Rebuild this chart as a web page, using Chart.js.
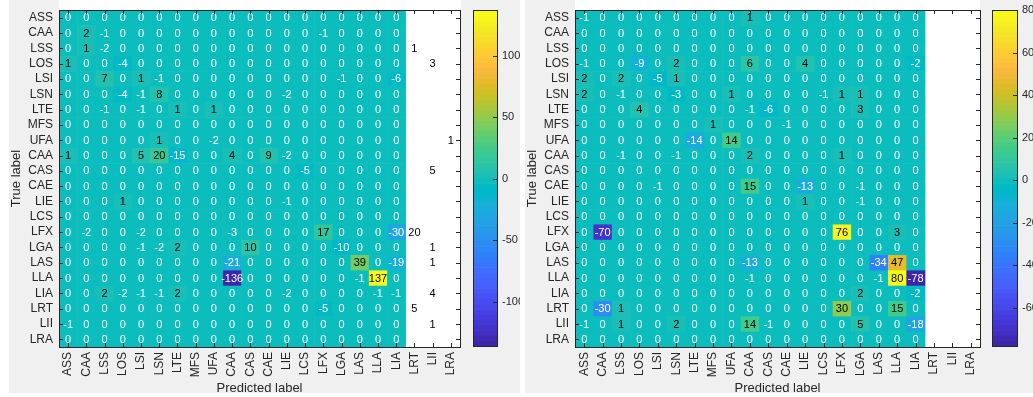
<!DOCTYPE html>
<html>
<head>
<meta charset="utf-8">
<script src="https://cdn.jsdelivr.net/npm/chart.js@4.4.1/dist/chart.umd.min.js"></script>
<style>
  html, body { margin: 0; padding: 0; width: 1033px; height: 397px; overflow: hidden; background: #ffffff; }
  .panel { position: absolute; top: 0; height: 393px; background: #f0f0f0; }
  .strip { position: absolute; top: 0; height: 10px; background: #ffffff; }
  canvas { position: absolute; top: 0; }
</style>
</head>
<body>
<div class="panel" style="left:9px;width:511px"></div>
<div class="panel" style="left:525px;width:508px"></div>
<div class="strip" style="left:59px;width:402px"></div>
<div class="strip" style="left:575px;width:405px"></div>
<canvas id="heatLeft" width="452" height="397" style="left:9px"></canvas>
<canvas id="barLeft" width="50" height="393" style="left:470px"></canvas>
<canvas id="heatRight" width="456" height="397" style="left:525px"></canvas>
<canvas id="barRight" width="52" height="393" style="left:981px"></canvas>
<script>
const classLabels = ['ASS', 'CAA', 'LSS', 'LOS', 'LSI', 'LSN', 'LTE', 'MFS', 'UFA', 'CAA', 'CAS',
  'CAE', 'LIE', 'LCS', 'LFX', 'LGA', 'LAS', 'LLA', 'LIA', 'LRT', 'LII', 'LRA']

// only the first 19 predicted columns carry an image, the last 3 show text only
const coloredColumns = 19

const leftMatrix = [
  [0, 0, 0, 0, 0, 0, 0, 0, 0, 0, 0, 0, 0, 0, 0, 0, 0, 0, 0, 0, 0, 0],
  [0, 2, -1, 0, 0, 0, 0, 0, 0, 0, 0, 0, 0, 0, -1, 0, 0, 0, 0, 0, 0, 0],
  [0, 1, -2, 0, 0, 0, 0, 0, 0, 0, 0, 0, 0, 0, 0, 0, 0, 0, 0, 1, 0, 0],
  [1, 0, 0, -4, 0, 0, 0, 0, 0, 0, 0, 0, 0, 0, 0, 0, 0, 0, 0, 0, 3, 0],
  [0, 0, 7, 0, 1, -1, 0, 0, 0, 0, 0, 0, 0, 0, 0, -1, 0, 0, -6, 0, 0, 0],
  [0, 0, 0, -4, -1, 8, 0, 0, 0, 0, 0, 0, -2, 0, 0, 0, 0, 0, 0, 0, 0, 0],
  [0, 0, -1, 0, -1, 0, 1, 0, 1, 0, 0, 0, 0, 0, 0, 0, 0, 0, 0, 0, 0, 0],
  [0, 0, 0, 0, 0, 0, 0, 0, 0, 0, 0, 0, 0, 0, 0, 0, 0, 0, 0, 0, 0, 0],
  [0, 0, 0, 0, 0, 1, 0, 0, -2, 0, 0, 0, 0, 0, 0, 0, 0, 0, 0, 0, 0, 1],
  [1, 0, 0, 0, 5, 20, -15, 0, 0, 4, 0, 9, -2, 0, 0, 0, 0, 0, 0, 0, 0, 0],
  [0, 0, 0, 0, 0, 0, 0, 0, 0, 0, 0, 0, 0, -5, 0, 0, 0, 0, 0, 0, 5, 0],
  [0, 0, 0, 0, 0, 0, 0, 0, 0, 0, 0, 0, 0, 0, 0, 0, 0, 0, 0, 0, 0, 0],
  [0, 0, 0, 1, 0, 0, 0, 0, 0, 0, 0, 0, -1, 0, 0, 0, 0, 0, 0, 0, 0, 0],
  [0, 0, 0, 0, 0, 0, 0, 0, 0, 0, 0, 0, 0, 0, 0, 0, 0, 0, 0, 0, 0, 0],
  [0, -2, 0, 0, -2, 0, 0, 0, 0, -3, 0, 0, 0, 0, 17, 0, 0, 0, -30, 20, 0, 0],
  [0, 0, 0, 0, -1, -2, 2, 0, 0, 0, 10, 0, 0, 0, 0, -10, 0, 0, 0, 0, 1, 0],
  [0, 0, 0, 0, 0, 0, 0, 0, 0, -21, 0, 0, 0, 0, 0, 0, 39, 0, -19, 0, 1, 0],
  [0, 0, 0, 0, 0, 0, 0, 0, 0, -136, 0, 0, 0, 0, 0, 0, -1, 137, 0, 0, 0, 0],
  [0, 0, 2, -2, -1, -1, 2, 0, 0, 0, 0, 0, -2, 0, 0, 0, 0, -1, -1, 0, 4, 0],
  [0, 0, 0, 0, 0, 0, 0, 0, 0, 0, 0, 0, 0, 0, -5, 0, 0, 0, 0, 5, 0, 0],
  [-1, 0, 0, 0, 0, 0, 0, 0, 0, 0, 0, 0, 0, 0, 0, 0, 0, 0, 0, 0, 1, 0],
  [0, 0, 0, 0, 0, 0, 0, 0, 0, 0, 0, 0, 0, 0, 0, 0, 0, 0, 0, 0, 0, 0]
]

const rightMatrix = [
  [-1, 0, 0, 0, 0, 0, 0, 0, 0, 1, 0, 0, 0, 0, 0, 0, 0, 0, 0, 0, 0, 0],
  [0, 0, 0, 0, 0, 0, 0, 0, 0, 0, 0, 0, 0, 0, 0, 0, 0, 0, 0, 0, 0, 0],
  [0, 0, 0, 0, 0, 0, 0, 0, 0, 0, 0, 0, 0, 0, 0, 0, 0, 0, 0, 0, 0, 0],
  [-1, 0, 0, -9, 0, 2, 0, 0, 0, 6, 0, 0, 4, 0, 0, 0, 0, 0, -2, 0, 0, 0],
  [2, 0, 2, 0, -5, 1, 0, 0, 0, 0, 0, 0, 0, 0, 0, 0, 0, 0, 0, 0, 0, 0],
  [2, 0, -1, 0, 0, -3, 0, 0, 1, 0, 0, 0, 0, -1, 1, 1, 0, 0, 0, 0, 0, 0],
  [0, 0, 0, 4, 0, 0, 0, 0, 0, -1, -6, 0, 0, 0, 0, 3, 0, 0, 0, 0, 0, 0],
  [0, 0, 0, 0, 0, 0, 0, 1, 0, 0, 0, -1, 0, 0, 0, 0, 0, 0, 0, 0, 0, 0],
  [0, 0, 0, 0, 0, 0, -14, 0, 14, 0, 0, 0, 0, 0, 0, 0, 0, 0, 0, 0, 0, 0],
  [0, 0, -1, 0, 0, -1, 0, 0, 0, 2, 0, 0, 0, 0, 1, 0, 0, 0, 0, 0, 0, 0],
  [0, 0, 0, 0, 0, 0, 0, 0, 0, 0, 0, 0, 0, 0, 0, 0, 0, 0, 0, 0, 0, 0],
  [0, 0, 0, 0, -1, 0, 0, 0, 0, 15, 0, 0, -13, 0, 0, -1, 0, 0, 0, 0, 0, 0],
  [0, 0, 0, 0, 0, 0, 0, 0, 0, 0, 0, 0, 1, 0, 0, -1, 0, 0, 0, 0, 0, 0],
  [0, 0, 0, 0, 0, 0, 0, 0, 0, 0, 0, 0, 0, 0, 0, 0, 0, 0, 0, 0, 0, 0],
  [0, -70, 0, 0, 0, 0, 0, 0, 0, 0, 0, 0, 0, 0, 76, 0, 0, 3, 0, 0, 0, 0],
  [0, 0, 0, 0, 0, 0, 0, 0, 0, 0, 0, 0, 0, 0, 0, 0, 0, 0, 0, 0, 0, 0],
  [0, 0, 0, 0, 0, 0, 0, 0, 0, -13, 0, 0, 0, 0, 0, 0, -34, 47, 0, 0, 0, 0],
  [0, 0, 0, 0, 0, 0, 0, 0, 0, -1, 0, 0, 0, 0, 0, 0, -1, 80, -78, 0, 0, 0],
  [0, 0, 0, 0, 0, 0, 0, 0, 0, 0, 0, 0, 0, 0, 0, 2, 0, 0, -2, 0, 0, 0],
  [0, -30, 1, 0, 0, 0, 0, 0, 0, 0, 0, 0, 0, 0, 30, 0, 0, 15, 0, 0, 0, 0],
  [-1, 0, 1, 0, 0, 2, 0, 0, 0, 14, -1, 0, 0, 0, 0, 5, 0, 0, -18, 0, 0, 0],
  [0, 0, 0, 0, 0, 0, 0, 0, 0, 0, 0, 0, 0, 0, 0, 0, 0, 0, 0, 0, 0, 0]
]

const leftColorbarTicks = [-100, -50, 0, 50, 100]
const rightColorbarTicks = [-60, -40, -20, 0, 20, 40, 60, 80]

// MATLAB parula, 64 entries
const PARULA = [
  [0.2422, 0.1504, 0.6603], [0.2504, 0.1650, 0.7076], [0.2578, 0.1818, 0.7511], [0.2647, 0.1978, 0.7952],
  [0.2706, 0.2147, 0.8364], [0.2751, 0.2342, 0.8710], [0.2783, 0.2559, 0.8991], [0.2803, 0.2782, 0.9221],
  [0.2813, 0.3006, 0.9414], [0.2810, 0.3228, 0.9579], [0.2795, 0.3447, 0.9717], [0.2760, 0.3667, 0.9829],
  [0.2699, 0.3892, 0.9906], [0.2602, 0.4123, 0.9952], [0.2440, 0.4358, 0.9988], [0.2206, 0.4603, 0.9973],
  [0.1963, 0.4847, 0.9892], [0.1834, 0.5074, 0.9798], [0.1786, 0.5289, 0.9682], [0.1764, 0.5499, 0.9520],
  [0.1687, 0.5703, 0.9359], [0.1540, 0.5902, 0.9218], [0.1460, 0.6091, 0.9079], [0.1380, 0.6276, 0.8973],
  [0.1248, 0.6459, 0.8883], [0.1113, 0.6635, 0.8763], [0.0952, 0.6798, 0.8598], [0.0689, 0.6948, 0.8394],
  [0.0297, 0.7082, 0.8163], [0.0036, 0.7203, 0.7917], [0.0067, 0.7312, 0.7660], [0.0433, 0.7411, 0.7394],
  [0.0964, 0.7500, 0.7120], [0.1408, 0.7584, 0.6842], [0.1717, 0.7670, 0.6554], [0.1938, 0.7758, 0.6251],
  [0.2161, 0.7843, 0.5923], [0.2470, 0.7918, 0.5567], [0.2906, 0.7973, 0.5188], [0.3406, 0.8008, 0.4789],
  [0.3909, 0.8029, 0.4354], [0.4456, 0.8024, 0.3909], [0.5044, 0.7993, 0.3480], [0.5616, 0.7942, 0.3045],
  [0.6174, 0.7876, 0.2612], [0.6720, 0.7793, 0.2227], [0.7242, 0.7698, 0.1910], [0.7738, 0.7598, 0.1646],
  [0.8203, 0.7498, 0.1535], [0.8634, 0.7406, 0.1596], [0.9035, 0.7330, 0.1774], [0.9393, 0.7288, 0.2100],
  [0.9728, 0.7298, 0.2394], [0.9956, 0.7434, 0.2371], [0.9970, 0.7659, 0.2199], [0.9952, 0.7893, 0.2028],
  [0.9892, 0.8136, 0.1885], [0.9786, 0.8386, 0.1766], [0.9676, 0.8639, 0.1643], [0.9610, 0.8890, 0.1537],
  [0.9597, 0.9135, 0.1423], [0.9628, 0.9373, 0.1265], [0.9691, 0.9606, 0.1064], [0.9769, 0.9839, 0.0805]
]

const AXIS_COLOR = '#262626'
const FONT_FAMILY = '"Liberation Sans", Arial, sans-serif'

Chart.defaults.font.family = FONT_FAMILY
Chart.defaults.color = AXIS_COLOR

function rgb(entry) {
  return `rgb(${Math.round(entry[0] * 255)},${Math.round(entry[1] * 255)},${Math.round(entry[2] * 255)})`
}

function colorFor(value, cmin, cmax) {
  const t = (value - cmin) / (cmax - cmin)
  const idx = Math.max(0, Math.min(PARULA.length - 1, Math.floor(t * PARULA.length)))
  return rgb(PARULA[idx])
}

function drawBoxTicks(ctx, area, xs, ys, tickLen) {
  ctx.save()
  ctx.strokeStyle = AXIS_COLOR
  ctx.lineWidth = 1
  ctx.beginPath()
  xs.forEach((px) => {
    const x = Math.round(px) + 0.5
    ctx.moveTo(x, area.bottom)
    ctx.lineTo(x, area.bottom - tickLen)
    ctx.moveTo(x, area.top)
    ctx.lineTo(x, area.top + tickLen)
  })
  ys.forEach((py) => {
    const y = Math.round(py) + 0.5
    ctx.moveTo(area.left, y)
    ctx.lineTo(area.left + tickLen, y)
    ctx.moveTo(area.right, y)
    ctx.lineTo(area.right - tickLen, y)
  })
  ctx.stroke()
  ctx.strokeRect(Math.round(area.left) + 0.5, Math.round(area.top) + 0.5,
    Math.round(area.right - area.left), Math.round(area.bottom - area.top))
  ctx.restore()
}

const heatmapPlugin = {
  id: 'heatmap',
  beforeDatasetsDraw(chart, args, opts) {
    const { ctx, chartArea, scales: { x, y } } = chart
    ctx.save()
    ctx.fillStyle = '#ffffff'
    ctx.fillRect(chartArea.left, chartArea.top, chartArea.width, chartArea.height)
    chart.data.datasets[0].data.forEach((cell) => {
      if (cell.x >= opts.colored) return
      const left = x.getPixelForValue(cell.x - 0.5)
      const right = x.getPixelForValue(cell.x + 0.5)
      const top = Math.min(y.getPixelForValue(cell.y - 0.5), y.getPixelForValue(cell.y + 0.5))
      const bottom = Math.max(y.getPixelForValue(cell.y - 0.5), y.getPixelForValue(cell.y + 0.5))
      ctx.fillStyle = colorFor(cell.v, opts.cmin, opts.cmax)
      ctx.fillRect(left, top, right - left + 0.6, bottom - top + 0.6)
    })
    ctx.restore()
  },
  afterDatasetsDraw(chart, args, opts) {
    const { ctx, scales: { x, y } } = chart
    ctx.save()
    ctx.font = `11px ${FONT_FAMILY}`
    ctx.textAlign = 'center'
    ctx.textBaseline = 'middle'
    chart.data.datasets[0].data.forEach((cell) => {
      if (cell.x >= opts.colored && cell.v === 0) return
      ctx.fillStyle = cell.v > 0 ? '#000000' : '#ffffff'
      ctx.fillText(String(cell.v), x.getPixelForValue(cell.x), y.getPixelForValue(cell.y) + 0.5)
    })
    ctx.restore()
  },
  afterDraw(chart) {
    const { ctx, chartArea, scales: { x, y } } = chart
    drawBoxTicks(ctx, chartArea,
      x.ticks.map((t) => x.getPixelForValue(t.value)),
      y.ticks.map((t) => y.getPixelForValue(t.value)), 4)
  }
}

const colorbarPlugin = {
  id: 'colorbar',
  afterDraw(chart, args, opts) {
    const { ctx, chartArea, scales: { y } } = chart
    const steps = PARULA.length
    ctx.save()
    for (let i = 0; i < steps; i++) {
      const v0 = opts.cmin + (opts.cmax - opts.cmin) * i / steps
      const v1 = opts.cmin + (opts.cmax - opts.cmin) * (i + 1) / steps
      const top = y.getPixelForValue(v1)
      const bottom = y.getPixelForValue(v0)
      ctx.fillStyle = rgb(PARULA[i])
      ctx.fillRect(chartArea.left, top, chartArea.width, bottom - top + 0.6)
    }
    ctx.strokeStyle = AXIS_COLOR
    ctx.lineWidth = 1
    ctx.beginPath()
    y.ticks.forEach((t) => {
      const py = Math.round(y.getPixelForValue(t.value)) + 0.5
      ctx.moveTo(chartArea.right, py)
      ctx.lineTo(chartArea.right - 4, py)
    })
    ctx.stroke()
    ctx.strokeRect(Math.round(chartArea.left) + 0.5, Math.round(chartArea.top) + 0.5,
      Math.round(chartArea.width), Math.round(chartArea.height))
    ctx.restore()
  }
}

function matrixPoints(matrix) {
  const points = []
  matrix.forEach((row, r) => row.forEach((v, c) => points.push({ x: c, y: r, v })))
  return points
}

function valueRange(matrix) {
  const values = matrix.flat()
  return { cmin: Math.min(...values), cmax: Math.max(...values) }
}

function buildHeatmap(canvasId, matrix) {
  const { cmin, cmax } = valueRange(matrix)
  const tickValues = classLabels.map((_, i) => ({ value: i }))
  return new Chart(document.getElementById(canvasId), {
    type: 'scatter',
    data: {
      datasets: [{ data: matrixPoints(matrix), pointRadius: 0, pointHoverRadius: 0 }]
    },
    plugins: [heatmapPlugin],
    options: {
      responsive: false,
      animation: false,
      events: [],
      layout: { padding: { top: 10, right: 1, bottom: 0, left: 0 } },
      plugins: {
        legend: { display: false },
        tooltip: { enabled: false },
        heatmap: { colored: coloredColumns, cmin, cmax }
      },
      scales: {
        x: {
          type: 'linear',
          min: -0.5,
          max: classLabels.length - 0.5,
          grid: { display: false, drawTicks: false },
          border: { display: false },
          afterBuildTicks: (scale) => { scale.ticks = tickValues.map((t) => ({ ...t })) },
          afterFit: (scale) => {
            scale.height = 50
            scale.paddingLeft = 0
            scale.paddingRight = 0
          },
          ticks: {
            autoSkip: false,
            minRotation: 90,
            maxRotation: 90,
            padding: 5,
            font: { size: 12 },
            color: AXIS_COLOR,
            callback: (value) => classLabels[value]
          },
          title: {
            display: true,
            text: 'Predicted label',
            font: { size: 13 },
            color: AXIS_COLOR,
            padding: { top: 0, bottom: 1 }
          }
        },
        y: {
          type: 'linear',
          reverse: true,
          min: -0.5,
          max: classLabels.length - 0.5,
          grid: { display: false, drawTicks: false },
          border: { display: false },
          afterBuildTicks: (scale) => { scale.ticks = tickValues.map((t) => ({ ...t })) },
          afterFit: (scale) => {
            scale.width = 50
            scale.paddingTop = 0
            scale.paddingBottom = 0
          },
          ticks: {
            autoSkip: false,
            padding: 6,
            font: { size: 12 },
            color: AXIS_COLOR,
            callback: (value) => classLabels[value]
          },
          title: {
            display: true,
            text: 'True label',
            font: { size: 13 },
            color: AXIS_COLOR,
            padding: { top: 0, bottom: 0 }
          }
        }
      }
    }
  })
}

function buildColorbar(canvasId, matrix, ticks, leftPad, axisWidth) {
  const { cmin, cmax } = valueRange(matrix)
  return new Chart(document.getElementById(canvasId), {
    type: 'scatter',
    data: { datasets: [] },
    plugins: [colorbarPlugin],
    options: {
      responsive: false,
      animation: false,
      events: [],
      layout: { padding: { top: 10, right: 0, bottom: 47, left: leftPad } },
      plugins: {
        legend: { display: false },
        tooltip: { enabled: false },
        colorbar: { cmin, cmax }
      },
      scales: {
        x: { type: 'linear', display: false, min: 0, max: 1 },
        y: {
          type: 'linear',
          position: 'right',
          min: cmin,
          max: cmax,
          grid: { display: false, drawTicks: false },
          border: { display: false },
          afterBuildTicks: (scale) => { scale.ticks = ticks.map((value) => ({ value })) },
          afterFit: (scale) => {
            scale.width = axisWidth
            scale.paddingTop = 0
            scale.paddingBottom = 0
          },
          ticks: { padding: 5, font: { size: 11 }, color: AXIS_COLOR }
        }
      }
    }
  })
}

buildHeatmap('heatLeft', leftMatrix)
buildColorbar('barLeft', leftMatrix, leftColorbarTicks, 3, 23)
buildHeatmap('heatRight', rightMatrix)
buildColorbar('barRight', rightMatrix, rightColorbarTicks, 11, 16)
</script>
</body>
</html>
